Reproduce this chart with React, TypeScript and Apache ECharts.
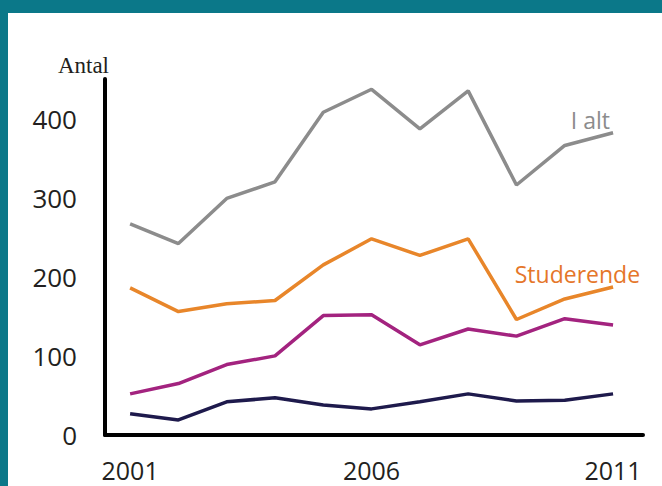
import React, { useEffect, useRef } from "react";
import * as echarts from "echarts";

const years = [2001, 2002, 2003, 2004, 2005, 2006, 2007, 2008, 2009, 2010, 2011];
const iAlt = [267, 242, 299, 320, 408, 437, 387, 435, 316, 366, 382];
const studerende = [186, 156, 166, 170, 215, 248, 227, 248, 146, 172, 187];
const magenta = [52, 65, 89, 100, 151, 152, 114, 134, 125, 147, 139];
const navy = [27, 19, 42, 47, 38, 33, 42, 52, 43, 44, 52];
const xTickLabels = [2001, 2006, 2011];
const yTicks = [0, 100, 200, 300, 400];

const FONT = "'Open Sans', 'Noto Sans', sans-serif";

const pairs = (vals: number[]) => vals.map((v, i) => [years[i], v]);

export default function App() {
  const ref = useRef<HTMLDivElement>(null);
  useEffect(() => {
    document.body.style.margin = "0";
    const chart = echarts.init(ref.current!, null, { renderer: "svg" });
    const lineStyle = (c: string) => ({ color: c, width: 3.5 });
    chart.setOption({
      animation: false,
      backgroundColor: "#ffffff",
      grid: { left: 105, right: 19, top: 79, bottom: 51 },
      xAxis: {
        type: "value",
        min: 2000.48,
        max: 2011.62,
        splitLine: { show: false },
        axisTick: { show: false },
        axisLine: { show: true, lineStyle: { color: "#000", width: 4 } },
        axisLabel: {
          customValues: xTickLabels,
          formatter: (v: number) => String(v),
          color: "#231f20",
          fontSize: 25,
          lineHeight: 26,
          fontFamily: FONT,
          margin: 22,
        },
      },
      yAxis: {
        type: "value",
        min: 0,
        max: 450,
        interval: 100,
        name: "Antal",
        nameLocation: "end",
        nameGap: 2,
        nameTextStyle: {
          fontFamily: "'Liberation Serif', 'DejaVu Serif', serif",
          fontSize: 23,
          color: "#231f20",
          align: "right",
          verticalAlign: "bottom",
          padding: [0, -4, 0, 0],
        },
        splitLine: { show: false },
        axisTick: { show: false },
        axisLine: { show: true, lineStyle: { color: "#000", width: 4 } },
        axisLabel: {
          customValues: yTicks,
          color: "#231f20",
          fontSize: 26,
          fontFamily: FONT,
          margin: 28,
        },
      },
      graphic: [
        { type: "rect", left: 0, top: 0, shape: { width: 662, height: 13 }, style: { fill: "#0b7889" } },
        { type: "rect", left: 0, top: 0, shape: { width: 8, height: 486 }, style: { fill: "#0b7889" } },
      ],
      series: [
        {
          type: "line",
          name: "I alt",
          data: pairs(iAlt),
          symbol: "none",
          lineStyle: lineStyle("#8c8c8c"),
          endLabel: {
            show: true,
            formatter: "I alt",
            color: "#8c8c8c",
            fontSize: 23,
            fontFamily: FONT,
            align: "right",
            verticalAlign: "middle",
            distance: 0,
            offset: [-3, -13],
          },
        },
        {
          type: "line",
          name: "Studerende",
          data: pairs(studerende),
          symbol: "none",
          lineStyle: lineStyle("#e8862a"),
          endLabel: {
            show: true,
            formatter: "Studerende",
            color: "#e5762a",
            fontSize: 23,
            fontFamily: FONT,
            align: "right",
            verticalAlign: "middle",
            distance: 0,
            offset: [27, -13],
          },
        },
        {
          type: "line",
          name: "Magenta",
          data: pairs(magenta),
          symbol: "none",
          lineStyle: lineStyle("#a3237f"),
        },
        {
          type: "line",
          name: "Navy",
          data: pairs(navy),
          symbol: "none",
          lineStyle: lineStyle("#1e1a4c"),
        },
      ],
    });
    return () => chart.dispose();
  }, []);
  return <div ref={ref} style={{ width: 662, height: 486 }} />;
}
